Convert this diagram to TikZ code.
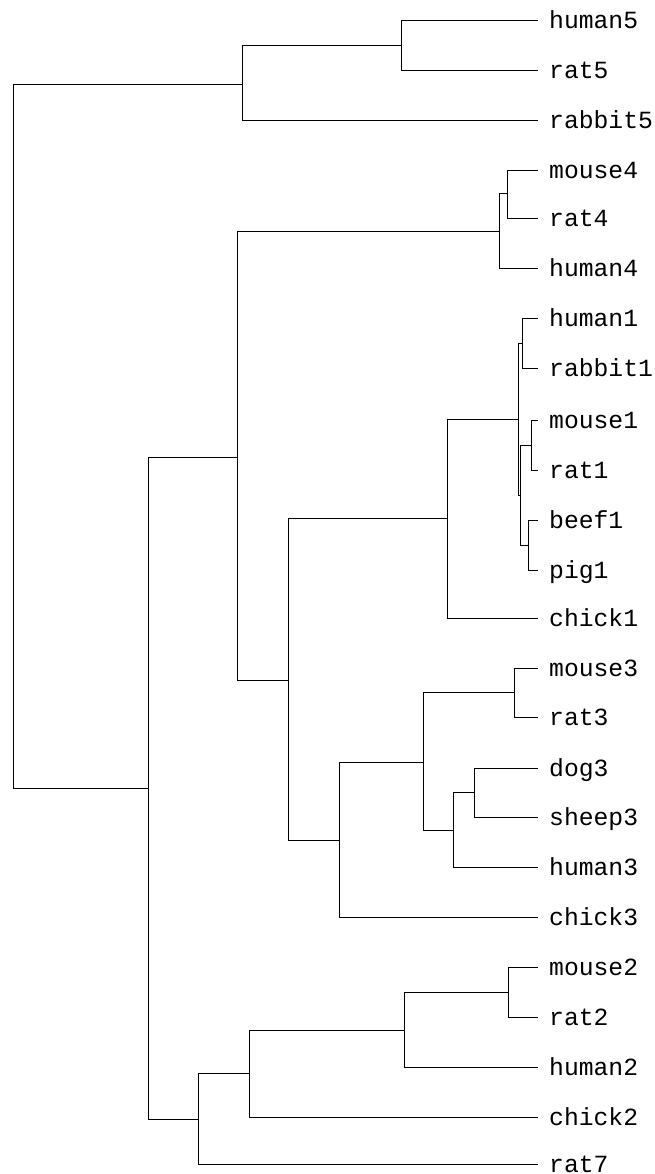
\documentclass[tikz,border=0pt]{standalone}
\usepackage{fontspec}
\newfontfamily\labfont{Liberation Mono}
\begin{document}
\begin{tikzpicture}[x=1pt,y=-1pt,
  branch/.style={draw=black, line width=0.9pt},
  leaf/.style={anchor=base west, inner sep=0pt, font=\labfont\fontsize{24.7}{26}\selectfont}]
\useasboundingbox (0,0) rectangle (655,1174);
% leaves
\foreach \nm/\y in {human5/20, rat5/70, rabbit5/120, mouse4/170, rat4/218, human4/268,
  human1/318, rabbit1/368, mouse1/420, rat1/470, beef1/520, pig1/570, chick1/618,
  mouse3/668, rat3/717, dog3/768, sheep3/817, human3/867, chick3/917,
  mouse2/967, rat2/1017, human2/1067, chick2/1117, rat7/1164}{
  \coordinate (e\nm) at (538,\y);
  \node[leaf] (\nm) at (549,{\y+8.5}) {\nm};
}
% internal nodes
\coordinate (root) at (13,436);
\coordinate (n5) at (242,84);
\coordinate (hr5) at (401,45);
\coordinate (nbig) at (148,788);
\coordinate (n134) at (237,457);
\coordinate (n4) at (499,231);
\coordinate (mr4) at (507,193);
\coordinate (n13) at (288,680);
\coordinate (n1) at (447,518);
\coordinate (mam1) at (518,419);
\coordinate (hrb1) at (522,343);
\coordinate (mrbp1) at (520,495);
\coordinate (mr1) at (531,445);
\coordinate (bp1) at (528,545);
\coordinate (n3) at (339,840);
\coordinate (n3a) at (423,762);
\coordinate (mr3) at (514,692);
\coordinate (dsh3) at (453,830);
\coordinate (ds3) at (474,792);
\coordinate (n27) at (198,1119);
\coordinate (n2) at (249,1073);
\coordinate (mrh2) at (404,1030);
\coordinate (mr2) at (508,992);
% branches
\foreach \p/\c in {root/n5, root/nbig, n5/hr5, n5/erabbit5, hr5/ehuman5, hr5/erat5,
  nbig/n134, nbig/n27, n134/n4, n134/n13, n4/mr4, n4/ehuman4, mr4/emouse4, mr4/erat4,
  n13/n1, n13/n3, n1/mam1, n1/echick1, mam1/hrb1, mam1/mrbp1, hrb1/ehuman1, hrb1/erabbit1,
  mrbp1/mr1, mrbp1/bp1, mr1/emouse1, mr1/erat1, bp1/ebeef1, bp1/epig1,
  n3/n3a, n3/echick3, n3a/mr3, n3a/dsh3, mr3/emouse3, mr3/erat3, dsh3/ds3, dsh3/ehuman3,
  ds3/edog3, ds3/esheep3,
  n27/n2, n27/erat7, n2/mrh2, n2/echick2, mrh2/mr2, mrh2/ehuman2, mr2/emouse2, mr2/erat2}{
  \draw[branch] (\p) |- (\c);
}
\end{tikzpicture}
\end{document}
